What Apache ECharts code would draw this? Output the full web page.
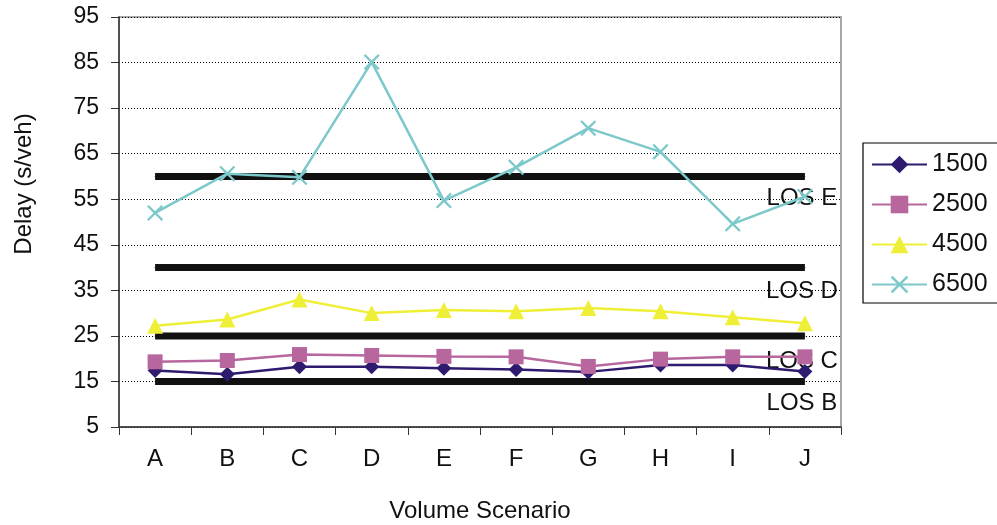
<!DOCTYPE html>
<html>
<head>
<meta charset="utf-8">
<script src="https://cdn.jsdelivr.net/npm/echarts@6/dist/echarts.min.js"></script>
<style>
  html, body { margin: 0; padding: 0; background: #fff; }
  #chart { width: 997px; height: 525px; }
</style>
</head>
<body>
<div id="chart"></div>
<script>
// 数据
const categories = ['A', 'B', 'C', 'D', 'E', 'F', 'G', 'H', 'I', 'J']
const seriesNames = ['1500', '2500', '4500', '6500']
const v1500 = [17.4, 16.6, 18.2, 18.2, 17.9, 17.6, 17.1, 18.6, 18.6, 17.2]
const v2500 = [19.3, 19.6, 20.9, 20.7, 20.5, 20.4, 18.3, 19.9, 20.4, 20.4]
const v4500 = [27.2, 28.6, 33.0, 30.0, 30.7, 30.4, 31.1, 30.4, 29.1, 27.8]
const v6500 = [52.0, 60.6, 59.8, 85.1, 54.7, 62.0, 70.6, 65.4, 49.6, 55.6]
const losLevels = [60, 40, 25, 15]
const losNames = ['LOS E', 'LOS D', 'LOS C', 'LOS B']

const font = 'Liberation Sans, Arial, sans-serif'
const xShape = 'path://M0,1L1,0L5,4L9,0L10,1L6,5L10,9L9,10L5,6L1,10L0,9L4,5Z'
// 标签与阈值线的间距（按参考图微调）
const losLabelGap = [9, 11, 13, 9]

// LOS 阈值线
const losSeries = losLevels.map((lvl, k) => ({
  type: 'line',
  name: losNames[k],
  data: categories.map((c, i) => i === categories.length - 1
    ? { value: lvl, label: { show: true, formatter: losNames[k], distance: losLabelGap[k] } }
    : lvl),
  symbol: 'circle',
  symbolSize: 1,
  itemStyle: { color: '#111' },
  lineStyle: { color: '#111', width: 7 },
  label: {
    show: false,
    position: 'bottom',
    offset: [-3, 0],
    fontFamily: font,
    fontSize: 24,
    color: '#111'
  },
  silent: true,
  z: 1
}))

function dataSeries(name, values, color, symbol, size) {
  return {
    type: 'line',
    name: name,
    data: values,
    symbol: symbol,
    symbolSize: size,
    itemStyle: { color: color },
    lineStyle: { color: color, width: 2.5 },
    z: 3
  }
}

const chart = echarts.init(document.getElementById('chart'))
chart.setOption({
  animation: false,
  grid: {
    left: 119, right: 156, top: 17, bottom: 98,
    outerBoundsMode: 'none',
    show: true, borderColor: '#8a8f8f', borderWidth: 1.5
  },
  legend: {
    data: seriesNames,
    orient: 'vertical',
    left: 863, top: 143,
    padding: [9, 20, 6, 8],
    itemGap: 15,
    itemWidth: 55,
    itemHeight: 22,
    borderColor: '#000',
    borderWidth: 1.2,
    textStyle: { fontFamily: font, fontSize: 25, color: '#111', lineHeight: 25 }
  },
  xAxis: {
    type: 'category',
    data: categories,
    name: 'Volume Scenario',
    nameLocation: 'middle',
    nameGap: 72,
    nameTextStyle: { fontFamily: font, fontSize: 24, color: '#111' },
    axisLine: { lineStyle: { color: '#333', width: 1.5 } },
    axisTick: { show: true, length: 8, lineStyle: { color: '#333' } },
    axisLabel: { margin: 20, fontFamily: font, fontSize: 24, color: '#111' }
  },
  yAxis: {
    type: 'value',
    min: 5, max: 95, interval: 10,
    axisLine: { show: true, lineStyle: { color: '#333', width: 1.5 } },
    axisTick: { show: true, length: 8, lineStyle: { color: '#333' } },
    axisLabel: { margin: 20, fontFamily: font, fontSize: 23, color: '#111' },
    splitLine: { show: true, lineStyle: { color: '#000', type: [1, 2], width: 1 } }
  },
  graphic: [{
    type: 'text',
    x: 24, y: 184,
    rotation: Math.PI / 2,
    style: {
      text: 'Delay (s/veh)',
      fontFamily: font, fontSize: 24, fill: '#111',
      textAlign: 'center', textVerticalAlign: 'middle'
    }
  }],
  series: losSeries.concat([
    dataSeries('1500', v1500, '#2e1a6e', 'diamond', 15),
    dataSeries('2500', v2500, '#b8669e', 'rect', 15),
    dataSeries('4500', v4500, '#efef38', 'triangle', 16),
    dataSeries('6500', v6500, '#7cc8ca', xShape, 16)
  ])
})
</script>
</body>
</html>
